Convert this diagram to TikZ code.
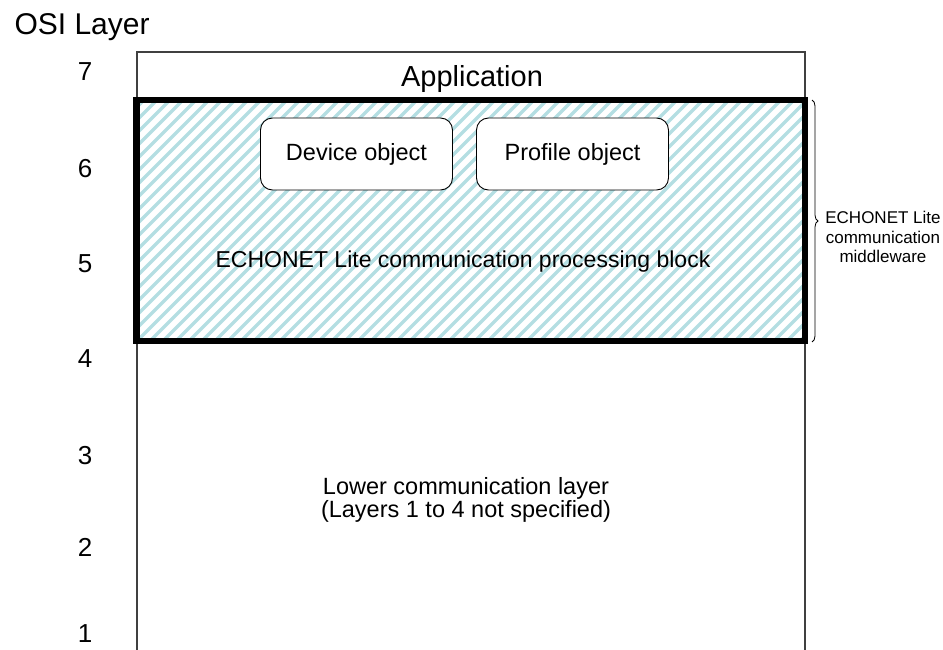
\documentclass[tikz,border=0pt]{standalone}
\usepackage{fontspec}
\setmainfont{Liberation Sans}
\usepackage{tikz}
\usetikzlibrary{decorations.pathreplacing}

\definecolor{hatchcyan}{RGB}{180,222,226}

\begin{document}
\begin{tikzpicture}[x=1pt,y=-1pt,
    numlbl/.style={font=\fontsize{26}{30}\selectfont},
    objbox/.style={draw,fill=white,rounded corners=12pt,line width=0.9pt,
      minimum width=192pt,minimum height=72pt,font=\fontsize{23.5}{27}\selectfont}]
    \useasboundingbox (0,0) rectangle (943,650);
    \node[anchor=base west,font=\fontsize{30}{34}\selectfont] (osi) at (11,35) {OSI Layer};
    \foreach \n/\y in {7/72,6/169,5/264,4/359,3/456,2/547,1/634}
      \node[numlbl] (l\n) at (85,\y) {\n};
    % stack, open at the bottom
    \draw[black!75,line width=1.4pt] (137,650) -- (137,52) -- (805,52) -- (805,650);
    \node[anchor=base,font=\fontsize{29}{33}\selectfont] (app) at (472,87) {Application};
    % middleware block
    \begin{scope}
      \clip (136.5,100) rectangle (805,341);
      \foreach \x in {-110,-97,...,810}
        \draw[hatchcyan,line width=3.5pt] (\x,341) -- (\x+241,100);
    \end{scope}
    \draw[line width=6.5pt] (136.5,100) rectangle (805,341);
    \node[objbox] (dev) at (356.5,154) {Device object};
    \node[objbox] (prof) at (572.5,154) {Profile object};
    \node[anchor=base,font=\fontsize{23}{27}\selectfont] (block) at (463,267)
      {ECHONET Lite communication processing block};
    \draw[decorate,decoration={brace,amplitude=6pt},line width=0.8pt] (812,100) -- (812,342);
    \node[align=center,font=\fontsize{17}{19.5}\selectfont] (mw) at (883,237)
      {ECHONET Lite\\communication\\middleware};
    \node[align=center,font=\fontsize{23.5}{23}\selectfont] (lower) at (466,499.5)
      {Lower communication layer\\(Layers 1 to 4 not specified)};
  \end{tikzpicture}
\end{document}
